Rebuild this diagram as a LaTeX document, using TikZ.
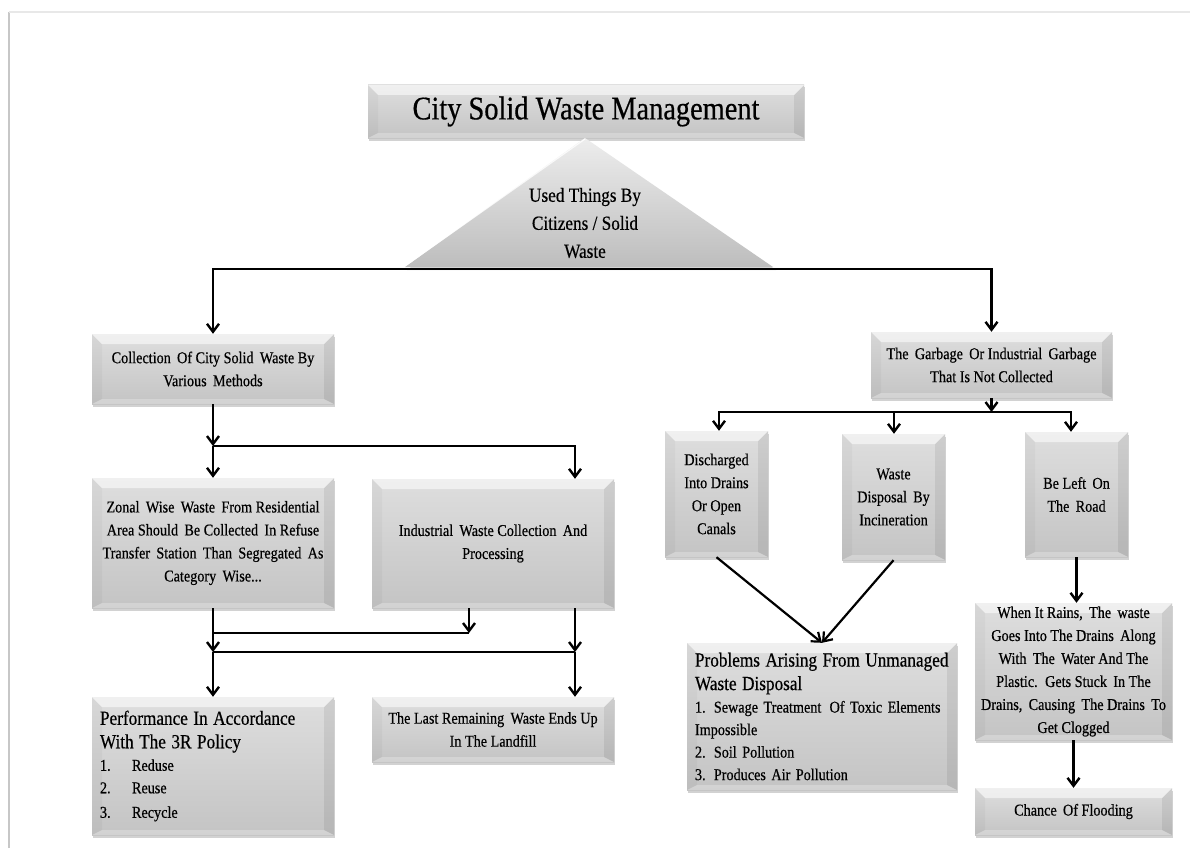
\documentclass[tikz,border=0pt]{standalone}
\usepackage{fontspec}
\setmainfont{Liberation Serif}[FakeStretch=0.86,FakeBold=0.5]
\usetikzlibrary{arrows.meta,calc,shadows}
\definecolor{faceT}{HTML}{DEDEDE}
\definecolor{faceB}{HTML}{C4C4C4}
\definecolor{triT}{HTML}{EDEDED}
\definecolor{triB}{HTML}{BDBDBD}
\newcommand{\boxfont}{\fontsize{16.5}{23}\selectfont}
\newcommand{\headfont}{\fontsize{20}{23.5}\selectfont}
\newcommand{\itemfont}{\fontsize{16.5}{22.5}\selectfont}
\newcommand{\titlefont}{\fontsize{33}{38}\selectfont}
\newcommand{\trifont}{\fontsize{20}{28}\selectfont}
\newcommand{\bvw}{10pt}
\newcommand{\bvb}{5pt}
\tikzset{
  bev/.style={rectangle, inner sep=0pt, align=center, font=\boxfont,
    top color=faceT, bottom color=faceB,
    drop shadow={shadow xshift=0.6pt, shadow yshift=-2.5pt, fill=black!35, opacity=0.5},
    path picture={
      \path (path picture bounding box.north west) coordinate (pA)
            (path picture bounding box.north east) coordinate (pB)
            (path picture bounding box.south east) coordinate (pC)
            (path picture bounding box.south west) coordinate (pD);
      \fill[black, opacity=0.03] (pA) -- ($(pA)+(\bvw,-\bvw)$) -- ($(pD)+(\bvw,\bvb)$) -- (pD) -- cycle;
      \fill[black, opacity=0.07] (pB) -- ($(pB)+(-\bvw,-\bvw)$) -- ($(pC)+(-\bvw,\bvb)$) -- (pC) -- cycle;
      \fill[white, opacity=0.25] (pD) -- ($(pD)+(\bvw,\bvb)$) -- ($(pC)+(-\bvw,\bvb)$) -- (pC) -- cycle;
      \fill[white, opacity=0.55] (pA) -- ($(pA)+(\bvw,-\bvw)$) -- ($(pB)+(-\bvw,-\bvw)$) -- (pB) -- cycle;
    }},
  ln/.style={line width=2.4pt, black},
  arr/.style={-{Straight Barb[length=8pt,width=12pt]}},
}
\begin{document}
\begin{tikzpicture}[x=1pt,y=-1pt]
\useasboundingbox (0,0) rectangle (1190,848);
\fill[white] (0,0) rectangle (1190,848);
% faint frame
\draw[line width=2pt, black!22] (9,848) -- (9,12);
\draw[line width=1.5pt, black!9] (9,12) -- (1190,12);

% title
\node[bev, font=\titlefont, minimum width=436pt, minimum height=53pt] (title) at (586,111.5) {City Solid Waste Management};

% triangle
\fill[black!30, opacity=0.5] (587,141) -- (776,270) -- (407,270) -- cycle;
\shade[top color=triT, bottom color=triB] (585,138) -- (773,267) -- (405,267) -- cycle;
\draw[white, line width=1.2pt, opacity=0.8] (405,266) -- (585,139);
\node[font=\trifont, align=center] (tri) at (585,223) {Used Things By\\Citizens / Solid\\Waste};

% junction coordinates
\coordinate (tc) at (585,269);
\coordinate (tl) at (213,269);
\coordinate (tr) at (991.5,269);
\coordinate (cj) at (213,446);
\coordinate (cj2) at (575,446);
\coordinate (jA) at (213,633);
\coordinate (jB) at (469,633);
\coordinate (jC) at (213,652);
\coordinate (jD) at (575,652);
\coordinate (gj) at (991.5,412);
\coordinate (g1) at (719,412);
\coordinate (g2) at (894,412);
\coordinate (g3) at (1071,412);

% left branch boxes
\node[bev, minimum width=242pt, minimum height=70pt] (coll) at (213,369) {Collection\, Of City Solid\, Waste By\\Various\, Methods};
\node[bev, minimum width=242pt, minimum height=130pt] (zonal) at (213,543) {Zonal\, Wise\, Waste\, From Residential\\Area Should\, Be Collected\, In Refuse\\Transfer\, Station\, Than\, Segregated\, As\\Category\, Wise...};
\node[bev, minimum width=242pt, minimum height=129pt] (ind) at (493,543.5) {Industrial\, Waste Collection\, And\\Processing};
\node[bev, minimum width=242pt, minimum height=138pt, text width=226pt, align=left] (rr) at (213,766)
  {{\headfont Performance In Accordance\\With The 3R Policy\par}{\itemfont\makebox[32pt][l]{1.}Reduse\\\makebox[32pt][l]{2.}Reuse\\[2pt]\makebox[32pt][l]{3.}Recycle\par}};
\node[bev, minimum width=242pt, minimum height=65pt] (land) at (493,729.5) {The Last Remaining\, Waste Ends Up\\In The Landfill};

% right branch boxes
\node[bev, minimum width=241pt, minimum height=66pt] (garb) at (991.5,365) {The\, Garbage\, Or Industrial\, Garbage\\That Is Not Collected};
\node[bev, minimum width=103pt, minimum height=126pt] (disc) at (716.5,494) {Discharged\\Into Drains\\Or Open\\Canals};
\node[bev, minimum width=103pt, minimum height=126pt] (inc) at (893.5,497) {Waste\\Disposal\, By\\Incineration};
\node[bev, minimum width=103pt, minimum height=125pt] (bel) at (1076.5,494.5) {Be Left\, On\\The\, Road};
\node[bev, minimum width=270pt, minimum height=147pt, text width=254pt, align=left] (prob) at (822,716.5)
  {{\headfont\hyphenpenalty=10000 \mbox{Problems Arising From Unmanaged}\\Waste Disposal\par}{\itemfont 1. Sewage Treatment\, Of Toxic Elements\\Impossible\\2. Soil Pollution\\3. Produces Air Pollution\par}};
\node[bev, minimum width=197pt, minimum height=137pt] (rain) at (1073.5,671.5) {When It Rains,\, The\, waste\\Goes Into The Drains\, Along\\With\, The\, Water And The\\Plastic.\, Gets Stuck\, In The\\Drains,\, Causing\, The Drains\, To\\Get Clogged};
\node[bev, minimum width=197pt, minimum height=47pt] (chance) at (1073.5,811.5) {Chance\, Of Flooding};

% connectors top
\draw[ln, arr] (tc) -- (tl) -- (coll.north);
\draw[ln, arr] (tc) -- (tr) -- (garb.north);

% left connectors
\draw[ln, arr] (coll.south) -- (cj);
\draw[ln, arr] (cj) -- (zonal.north);
\draw[ln, arr] (cj) -- (cj2) -- (cj2 |- ind.north);
\draw[ln, arr] (zonal.south) -- (jC);
\draw[ln, arr] (jB |- ind.south) -- (jB);
\draw[ln] (jB) -- (jA);
\draw[ln] (jC) -- (jD);
\draw[ln, arr] (jC) -- (rr.north);
\draw[ln, arr] (jD |- ind.south) -- (jD);
\draw[ln, arr] (jD) -- (jD |- land.north);

% right connectors
\draw[ln, arr] (garb.south) -- (gj);
\draw[ln, arr] (gj) -- (g1) -- (g1 |- disc.north);
\draw[ln, arr] (gj) -- (g3) -- (g3 |- bel.north);
\draw[ln, arr] (g2) -- (g2 |- inc.north);
\draw[line width=2.2pt, arr] (disc.south) -- (prob.north);
\draw[line width=2.2pt, arr] (inc.south) -- (prob.north);
\draw[ln, arr] (bel.south) -- (bel.south |- rain.north);
\draw[ln, arr] (rain.south) -- (chance.north);
\end{tikzpicture}
\end{document}
